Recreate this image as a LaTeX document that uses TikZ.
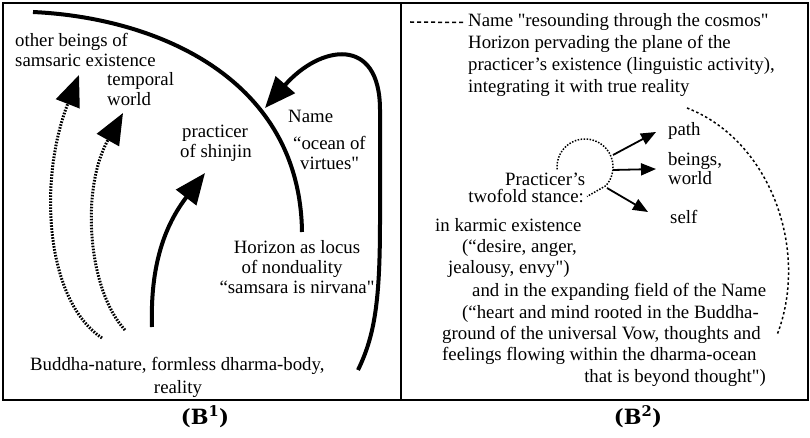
\documentclass[tikz,border=0pt]{standalone}
\usepackage{fontspec}
\setmainfont{Liberation Serif}[Ligatures=TeXOff]
\newfontfamily\labfont{DejaVu Serif}
\usetikzlibrary{arrows.meta}
\begin{document}
\begin{tikzpicture}[x=1pt,y=-1pt,
  txt/.style={font=\fontsize{18.8}{21}\selectfont, inner sep=0pt, anchor=base west},
  txtc/.style={txt, anchor=base},
  txte/.style={txt, anchor=base east},
  thickcurve/.style={line width=4pt},
  dotcurve/.style={line width=3pt, dash pattern=on 1.6pt off 1.4pt},
  bighead/.style={-{Triangle[length=31pt,width=25pt]}},
  smallhead/.style={-{Triangle[length=15pt,width=12pt]}},
  thinarrow/.style={line width=1.8pt},
  frame/.style={line width=1.5pt},
  dashy/.style={line width=1.5pt, dash pattern=on 2.5pt off 2.5pt},
  longdash/.style={line width=1.5pt, dash pattern=on 4pt off 3pt},
  dotty/.style={line width=1.5pt, dash pattern=on 1.5pt off 1.5pt},
  panellabel/.style={font=\labfont\bfseries\fontsize{21}{23}\selectfont, inner sep=0pt, anchor=base}
]
\useasboundingbox (0,0) rectangle (810,438);

% frames
\draw[frame] (3,3) rectangle (808,400);
\draw[frame] (401,3) -- (401,400);

% ---------------- B1 ----------------
\node[txt] (ob1) at (15,47) {other beings of};
\node[txt] (ob2) at (15,67) {samsaric existence};
\node[txt] (tw1) at (107,86) {temporal};
\node[txt] (tw2) at (107,106) {world};
\node[txt] (ps1) at (182,138) {practicer};
\node[txt] (ps2) at (180,158) {of shinjin};
\node[txt] (nm1) at (288,123) {Name};
\node[txt] (nm2) at (293,150) {“ocean of};
\node[txt] (nm3) at (300,170) {virtues"};
\node[txtc] (hz1) at (297,253) {Horizon as locus};
\node[txtc] (hz2) at (292,273) {of nonduality};
\node[txtc] (hz3) at (297,293) {“samsara is nirvana"};
\node[txt] (bn1) at (30,370) {Buddha-nature, formless dharma-body,};
\node[txtc] (bn2) at (178,393) {reality};

\coordinate (c1s) at (33,12);
\coordinate (c1e) at (302,232);
\draw[thickcurve] (c1s) .. controls (160,18) and (300,80) .. (c1e);

\coordinate (c2s) at (358,370);
\coordinate (c2e) at (265,108);
\draw[thickcurve, bighead] (c2s) .. controls (375,335) and (380,300) .. (380,220)
  -- (380,110) .. controls (380,35) and (320,45) .. (c2e);

\coordinate (c3s) at (152,327);
\coordinate (c3e) at (205,173);
\draw[thickcurve, bighead] (c3s) .. controls (150,265) and (165,225) .. (c3e);

\coordinate (d1s) at (102,338);
\coordinate (d1e) at (79,75);
\draw[dotcurve, bighead] (d1s) .. controls (45,300) and (38,180) .. (d1e);

\coordinate (d2s) at (125,330);
\coordinate (d2e) at (123,113);
\draw[dotcurve, bighead] (d2s) .. controls (88,290) and (80,190) .. (d2e);

% ---------------- B2 ----------------
\node[txt] (r1) at (468,27) {Name "resounding through the cosmos"};
\node[txt] (r2) at (468,49) {Horizon pervading the plane of the};
\node[txt] (r3) at (468,71) {practicer’s existence (linguistic activity),};
\node[txt] (r4) at (468,93) {integrating it with true reality};
\coordinate (dl) at (410,22);
\draw[longdash] (dl) -- ([xshift=-4pt]r1.west);

\node[txt] (pa) at (668,136) {path};
\node[txt] (be1) at (668,166) {beings,};
\node[txt] (be2) at (668,185) {world};
\node[txt] (sf) at (670,224) {self};

\node[txt] (pr1) at (505,186) {Practicer’s};
\node[txte] (pr2) at (584,203) {twofold stance:};
\node[txt] (k1) at (435,231) {in karmic existence};
\node[txt] (k2) at (462,252) {(“desire, anger,};
\node[txt] (k3) at (448,273) {jealousy, envy")};
\node[txt] (k4) at (472,296) {and in the expanding field of the Name};
\node[txt] (k5) at (462,318) {(“heart and mind rooted in the Buddha-};
\node[txt] (k6) at (442,339) {ground of the universal Vow, thoughts and};
\node[txt] (k7) at (442,360) {feelings flowing within the dharma-ocean};
\node[txte] (k8) at (766,382) {that is beyond thought")};

\coordinate (cc) at (585,167);
\draw[dotty] plot[domain=175:402, samples=60, smooth] ({585+28*cos(\x)},{167+28*sin(\x)})
  -- ([xshift=3pt]pr2.east);

\coordinate (a1s) at (613,155);
\coordinate (a1e) at (656,132);
\coordinate (a2s) at (613,170);
\coordinate (a2e) at (656,169);
\coordinate (a3s) at (607,188);
\coordinate (a3e) at (648,212);
\draw[thinarrow, smallhead] (a1s) -- (a1e);
\draw[thinarrow, smallhead] (a2s) -- (a2e);
\draw[thinarrow, smallhead] (a3s) -- (a3e);

\coordinate (da1) at (687,108);
\coordinate (da2) at (777,335);
\draw[dashy] (da1) .. controls (770,140) and (810,250) .. (da2);

% labels
\node[panellabel] (lb1) at (205,424) {(B\textsuperscript{1})};
\node[panellabel] (lb2) at (638,424) {(B\textsuperscript{2})};
\end{tikzpicture}
\end{document}
